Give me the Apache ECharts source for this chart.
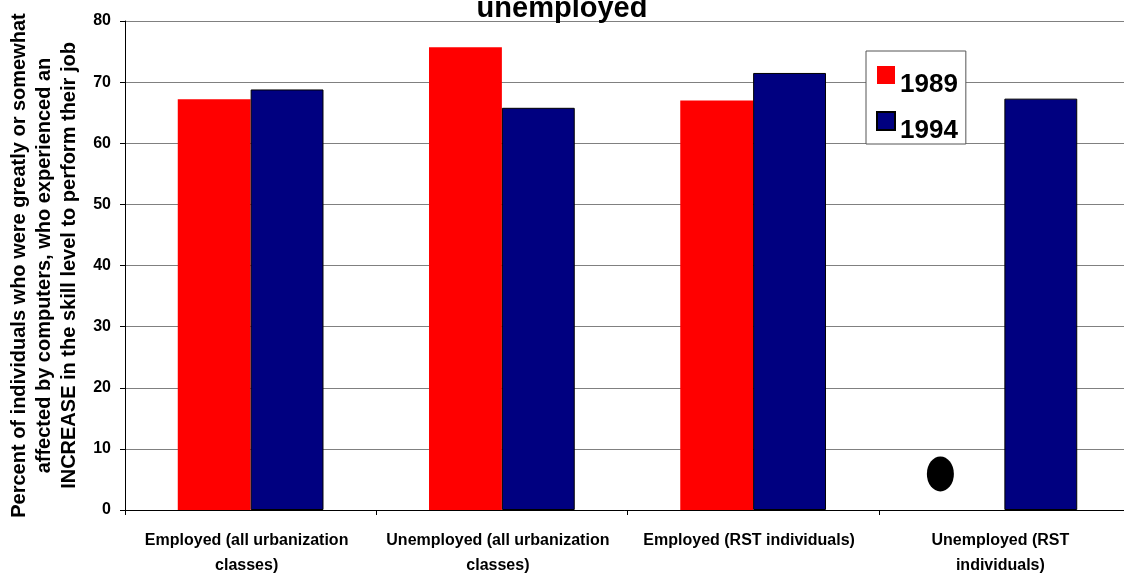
<!DOCTYPE html>
<html>
<head>
<meta charset="utf-8">
<script src="https://cdn.jsdelivr.net/npm/echarts@6/dist/echarts.min.js"></script>
<style>html,body{margin:0;padding:0;background:#fff}#c{width:1124px;height:575px}</style>
</head>
<body>
<div id="c"></div>
<script>
const titleText = 'unemployed';
const categories = [
  'Employed (all urbanization\nclasses)',
  'Unemployed (all urbanization\nclasses)',
  'Employed (RST individuals)',
  'Unemployed (RST\nindividuals)'
];
const series1989 = [67.2, 75.7, 67.0, null];
const series1994 = [68.8, 65.8, 71.5, 67.3];
const markerValues = [null, null, null, 5.9];
const yTicks = [0, 10, 20, 30, 40, 50, 60, 70, 80];
const yName = 'Percent of individuals who were greatly or somewhat\naffected by computers, who experienced an\nINCREASE in the skill level to perform their job';

const FONT = '"Liberation Sans", Arial, sans-serif';
const chart = echarts.init(document.getElementById('c'), null, {renderer: 'canvas'});
chart.setOption({
  animation: false,
  backgroundColor: '#fff',
  textStyle: {fontFamily: FONT},
  title: {
    text: titleText, left: 'center', top: -11,
    textStyle: {fontFamily: FONT, fontWeight: 'bold', fontSize: 29, color: '#000'}
  },
  legend: {
    data: ['1989', '1994'],
    orient: 'vertical',
    left: 866, top: 51,
    padding: [1, 8, 0, 10],
    itemWidth: 18, itemHeight: 18, itemGap: 0,
    icon: 'rect',
    backgroundColor: '#fff',
    borderColor: '#555', borderWidth: 1,
    formatter: '{a|{name}}',
    textStyle: {
      fontFamily: FONT, fontWeight: 'bold', fontSize: 26, color: '#000',
      rich: {a: {fontFamily: FONT, fontWeight: 'bold', fontSize: 26, color: '#000', lineHeight: 24, padding: [20, 0, 0, 0]}}
    }
  },
  grid: {left: 125, width: 1005, top: 21, bottom: 65, containLabel: false, outerBoundsMode: 'none'},
  xAxis: {
    type: 'category', data: categories,
    axisLine: {lineStyle: {color: '#000', width: 1}},
    axisTick: {show: true, length: 5, lineStyle: {color: '#000'}},
    axisLabel: {interval: 0, fontFamily: FONT, fontWeight: 'bold', fontSize: 16, color: '#000', lineHeight: 25, margin: 18, padding: [0, 8, 0, 0]}
  },
  yAxis: {
    type: 'value', min: yTicks[0], max: yTicks[yTicks.length - 1], interval: 10,
    name: yName, nameLocation: 'middle', nameRotate: 90, nameGap: 42,
    nameTextStyle: {fontFamily: FONT, fontWeight: 'bold', fontSize: 20, color: '#000', lineHeight: 25, align: 'center'},
    axisLine: {show: true, lineStyle: {color: '#000'}},
    axisTick: {show: true, length: 5, lineStyle: {color: '#000'}},
    axisLabel: {fontFamily: FONT, fontWeight: 'bold', fontSize: 16, color: '#000', margin: 14},
    splitLine: {lineStyle: {color: '#808080', width: 1}}
  },
  series: [
    {name: '1989', type: 'bar', data: series1989, barGap: '0%', barCategoryGap: '42%',
     itemStyle: {color: '#ff0000'}},
    {name: '1994', type: 'bar', data: series1994,
     itemStyle: {color: '#000080', borderColor: '#000', borderWidth: 1}},
    {name: 'marker', type: 'scatter', data: markerValues, symbol: 'circle',
     symbolSize: [27, 35], symbolOffset: [-64, 0], itemStyle: {color: '#000', opacity: 1}, z: 5}
  ]
});
</script>
</body>
</html>
